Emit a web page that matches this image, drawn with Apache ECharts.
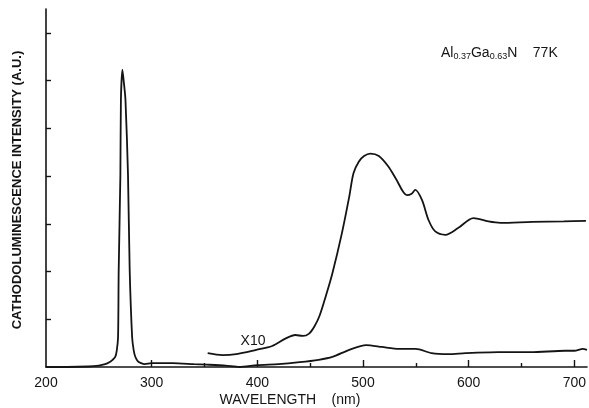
<!DOCTYPE html>
<html>
<head>
<meta charset="utf-8">
<script src="https://cdn.jsdelivr.net/npm/echarts@6/dist/echarts.min.js"></script>
<style>
html,body{margin:0;padding:0;background:#fff;}
#chart{width:589px;height:408px;}
</style>
</head>
<body>
<div id="chart"></div>
<script>
// Direct (x1) spectrum: wavelength (nm) and intensity (a.u.)
var wl1 = [200, 220, 240, 250, 256, 260, 263, 265.5, 267, 268.2, 268.8, 270.4, 270.9, 272.3, 273.5, 275.2, 277.6, 279.2, 281.5, 283, 284.6, 287, 290, 293.4, 300, 320, 340, 352, 370, 383, 400, 420, 440, 458, 471, 487, 503, 518, 534, 550, 565, 581, 597, 628, 659, 691, 700, 708, 712];
var int1 = [0, 0, 0.01, 0.03, 0.06, 0.1, 0.15, 0.21, 0.35, 0.63, 2.03, 4.03, 5.6, 6.23, 6.0, 5.6, 4.03, 2.03, 0.63, 0.35, 0.21, 0.12, 0.08, 0.06, 0.08, 0.08, 0.06, 0.05, 0.03, 0.0, 0.04, 0.06, 0.1, 0.15, 0.21, 0.36, 0.46, 0.42, 0.38, 0.38, 0.29, 0.27, 0.29, 0.31, 0.31, 0.34, 0.34, 0.38, 0.36];
// Magnified (x10) spectrum
var wl10 = [353, 367, 380, 399, 414, 427, 436, 443, 449, 454, 459, 465, 471, 480, 487, 491, 496, 501, 507, 515, 524, 531, 541.6, 546, 549.5, 555.8, 562, 568.4, 578, 590, 604.5, 618.7, 630, 660, 690, 711];
var int10 = [0.29, 0.25, 0.27, 0.36, 0.44, 0.6, 0.67, 0.65, 0.7, 0.85, 1.08, 1.5, 1.96, 2.8, 3.57, 4.06, 4.3, 4.42, 4.47, 4.42, 4.2, 3.95, 3.6, 3.63, 3.71, 3.5, 3.08, 2.84, 2.77, 2.91, 3.12, 3.05, 3.02, 3.04, 3.05, 3.06];
// Axis ticks
var xLabels = [200, 300, 400, 500, 600, 700];
var xMajorTicks = [300, 400, 500, 600, 700];
var xMinorTicks = [350, 450, 550, 650];
var yTicks = [1, 2, 3, 4, 5, 6, 7];

function pairs(xs, ys){ return xs.map(function(x,i){ return [x, ys[i]]; }); }

var chart = echarts.init(document.getElementById('chart'), null, {renderer:'canvas'});
var ink = '#141414';
chart.setOption({
  backgroundColor: '#ffffff',
  animation: false,
  grid: {left: 46, top: 9, width: 543, height: 358, containLabel: false},
  xAxis: [{
    type: 'value', min: 200, max: 712,
    axisLine: {lineStyle: {color: ink, width: 1.6}},
    axisTick: {inside: true, length: 7, lineStyle: {color: ink, width: 1.4}, customValues: xMajorTicks},
    axisLabel: {customValues: xLabels, color: ink, fontSize: 14, fontFamily: 'Liberation Sans', margin: 9},
    splitLine: {show: false}
  }, {
    type: 'value', min: 200, max: 712, position: 'bottom',
    axisLine: {show: false},
    axisTick: {inside: true, length: 4, lineStyle: {color: ink, width: 1.4}, customValues: xMinorTicks},
    axisLabel: {show: false},
    splitLine: {show: false}
  }],
  yAxis: {
    type: 'value', min: 0, max: 7.5,
    axisLine: {show: true, lineStyle: {color: ink, width: 1.6}},
    axisTick: {show: true, inside: true, length: 5, lineStyle: {color: ink, width: 1.4}, customValues: yTicks},
    axisLabel: {show: false},
    splitLine: {show: false}
  },
  series: [{
    type: 'line', data: pairs(wl1, int1), showSymbol: false, smooth: 0.25,
    lineStyle: {color: ink, width: 1.8}
  }, {
    type: 'line', data: pairs(wl10, int10), showSymbol: false, smooth: 0.3,
    lineStyle: {color: ink, width: 1.8}
  }],
  graphic: [{
    type: 'text', x: 17, y: 190, rotation: Math.PI/2,
    style: {text: 'CATHODOLUMINESCENCE INTENSITY (A.U.)', fill: ink, font: 'bold 13px "Liberation Sans"', align: 'center', verticalAlign: 'middle'}
  }, {
    type: 'text', x: 290, y: 400,
    style: {text: 'WAVELENGTH    (nm)', fill: ink, font: '14px "Liberation Sans"', align: 'center', verticalAlign: 'middle'}
  }, {
    type: 'text', x: 253, y: 341,
    style: {text: 'X10', fill: ink, font: '14px "Liberation Sans"', align: 'center', verticalAlign: 'middle'}
  }, {
    type: 'text', x: 441, y: 53,
    style: {
      text: 'Al{s|0.37}Ga{s|0.63}N    77K', fill: ink, font: '14px "Liberation Sans"', verticalAlign: 'middle',
      rich: {s: {fontSize: 9, padding: [8, 0, 0, 0], fill: ink}}
    }
  }]
});
</script>
</body>
</html>
